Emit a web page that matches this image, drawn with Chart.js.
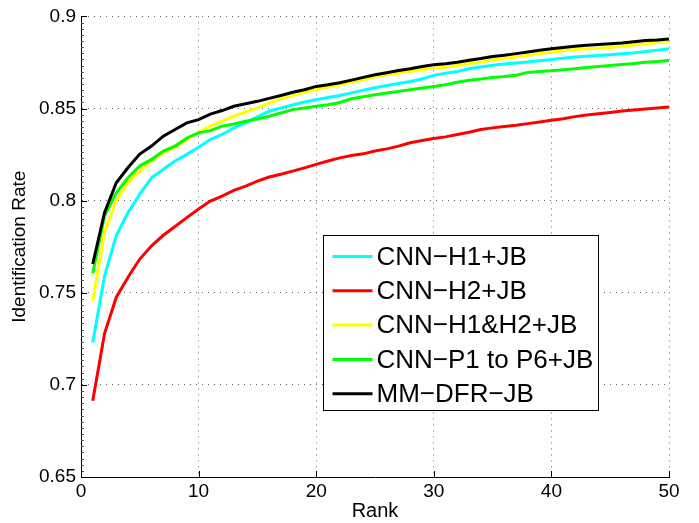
<!DOCTYPE html>
<html>
<head>
<meta charset="utf-8">
<script src="https://cdn.jsdelivr.net/npm/chart.js@4.4.0/dist/chart.umd.min.js"></script>
<style>
  html, body { margin: 0; padding: 0; background: #ffffff; }
  #wrap { width: 699px; height: 523px; }
</style>
</head>
<body>
<div id="wrap"><canvas id="c" width="699" height="523"></canvas></div>
<script>
const ranks = [1,2,3,4,5,6,7,8,9,10,11,12,13,14,15,16,17,18,19,20,21,22,23,24,25,26,27,28,29,30,31,32,33,34,35,36,37,38,39,40,41,42,43,44,45,46,47,48,49,50];

const seriesNames = ['CNN\u2212H1+JB', 'CNN\u2212H2+JB', 'CNN\u2212H1&H2+JB', 'CNN\u2212P1 to P6+JB', 'MM\u2212DFR\u2212JB'];

const cnnH1 = [0.723,0.759,0.781,0.7935,0.8035,0.8124,0.817,0.8215,0.8251,0.829,0.8332,0.8359,0.8395,0.8422,0.8455,0.8485,0.8503,0.852,0.8535,0.8548,0.856,0.8571,0.8585,0.86,0.8613,0.8625,0.8636,0.8647,0.866,0.868,0.8692,0.8701,0.8716,0.8725,0.8735,0.8741,0.8747,0.8753,0.8759,0.8766,0.8773,0.8779,0.8784,0.8788,0.8792,0.8797,0.8802,0.8809,0.8816,0.8824];

const cnnH2 = [0.6914,0.7278,0.7476,0.7584,0.7683,0.7755,0.7812,0.786,0.7908,0.7955,0.7998,0.8025,0.8056,0.8079,0.8106,0.8128,0.8143,0.816,0.8178,0.8197,0.8215,0.8232,0.8245,0.8254,0.8269,0.8281,0.8296,0.8314,0.8326,0.8337,0.8346,0.8359,0.8371,0.8386,0.8395,0.8402,0.8409,0.8418,0.8427,0.8436,0.8445,0.8456,0.8465,0.8472,0.8479,0.8486,0.8492,0.8497,0.8503,0.8508];

const cnnH1H2 = [0.7455,0.7827,0.80,0.8097,0.816,0.8215,0.826,0.829,0.8332,0.8371,0.8404,0.8431,0.8458,0.8481,0.8503,0.853,0.8551,0.8571,0.8588,0.8602,0.8615,0.8629,0.8642,0.8656,0.8672,0.8683,0.8692,0.8701,0.871,0.8719,0.8724,0.8733,0.8744,0.8751,0.8764,0.8771,0.878,0.8789,0.8798,0.8805,0.8813,0.882,0.8824,0.8827,0.8831,0.8838,0.8845,0.8852,0.8858,0.8863];

const cnnP1P6 = [0.7605,0.7917,0.8043,0.8124,0.8188,0.8224,0.8269,0.8296,0.834,0.8368,0.838,0.8404,0.8416,0.8431,0.8443,0.8458,0.8476,0.8494,0.8503,0.8512,0.8521,0.8533,0.8553,0.8564,0.8575,0.8584,0.8593,0.8602,0.8611,0.862,0.8629,0.8643,0.8654,0.866,0.8669,0.8674,0.8681,0.8696,0.8701,0.8705,0.871,0.8716,0.8723,0.8728,0.8734,0.8739,0.8744,0.8751,0.8755,0.876];

const mmDfr = [0.7656,0.7935,0.8097,0.818,0.8253,0.8296,0.835,0.8386,0.8422,0.844,0.847,0.8489,0.8512,0.8526,0.8539,0.8555,0.8571,0.8588,0.8602,0.862,0.8629,0.864,0.8654,0.8669,0.8683,0.8694,0.8706,0.8716,0.8728,0.8737,0.8743,0.8751,0.8762,0.8771,0.8782,0.8789,0.8798,0.8807,0.8816,0.8824,0.8831,0.8838,0.8843,0.8847,0.8851,0.8856,0.8863,0.8869,0.8872,0.8878];

const xTicks = [0, 10, 20, 30, 40, 50];
const yTicks = [0.65, 0.7, 0.75, 0.8, 0.85, 0.9];
const yTickLabels = ['0.65', '0.7', '0.75', '0.8', '0.85', '0.9'];
const xTickLabels = ['0', '10', '20', '30', '40', '50'];

const seriesValues = [cnnH1, cnnH2, cnnH1H2, cnnP1P6, mmDfr];
const seriesColors = ['#00ffff', '#ff0000', '#ffff00', '#00ff00', '#000000'];

const FONT = '"Liberation Sans", Arial, Helvetica, sans-serif';

const datasets = seriesValues.map((vals, i) => ({
  label: seriesNames[i],
  data: vals.map((v, j) => ({ x: ranks[j], y: v })),
  borderColor: seriesColors[i],
  backgroundColor: seriesColors[i],
  borderWidth: 3,
  pointRadius: 0,
  tension: 0,
  fill: false,
  order: seriesValues.length - 1 - i
}));

const axisDecor = {
  id: 'axisDecor',
  afterDatasetsDraw(chart) {
    const { ctx, chartArea: a, scales: { x, y } } = chart;
    ctx.save();
    // minor ticks (inward)
    ctx.strokeStyle = '#555';
    ctx.lineWidth = 1;
    ctx.beginPath();
    const yStep = (yTicks[1] - yTicks[0]) / 15;
    for (let v = yTicks[0]; v <= yTicks[yTicks.length - 1] + 1e-9; v += yStep) {
      const py = Math.round(y.getPixelForValue(v)) + 0.5;
      ctx.moveTo(a.left, py); ctx.lineTo(a.left + 3, py);
    }
    ctx.stroke();
    // major ticks (inward)
    ctx.strokeStyle = '#000';
    ctx.beginPath();
    xTicks.forEach(v => {
      const px = Math.round(x.getPixelForValue(v)) + 0.5;
      ctx.moveTo(px, a.bottom); ctx.lineTo(px, a.bottom - 6);
    });
    yTicks.forEach(v => {
      const py = Math.round(y.getPixelForValue(v)) + 0.5;
      ctx.moveTo(a.left, py); ctx.lineTo(a.left + 6, py);
    });
    ctx.stroke();

    // legend box inside the axes
    const bx = Math.round(a.left + (a.right - a.left) * 0.412) + 0.5;
    const by = Math.round(a.top + (a.bottom - a.top) * 0.475) + 0.5;
    const bw = 275, bh = 175;
    ctx.fillStyle = '#ffffff';
    ctx.fillRect(bx, by, bw, bh);
    ctx.strokeStyle = '#000';
    ctx.lineWidth = 1;
    ctx.strokeRect(bx, by, bw, bh);
    ctx.font = '26px ' + FONT;
    ctx.textBaseline = 'middle';
    ctx.textAlign = 'left';
    chart.data.datasets.forEach((ds, i) => {
      const cy = by + 21 + i * 34.3;
      ctx.strokeStyle = ds.borderColor;
      ctx.lineWidth = 3;
      ctx.beginPath();
      ctx.moveTo(bx + 9, cy); ctx.lineTo(bx + 49, cy);
      ctx.stroke();
      ctx.fillStyle = '#000';
      ctx.fillText(ds.label, bx + 53, cy + 1);
    });
    ctx.restore();
  }
};

new Chart(document.getElementById('c'), {
  type: 'line',
  data: { datasets },
  options: {
    responsive: false,
    animation: false,
    devicePixelRatio: 1,
    layout: { padding: { left: 0, right: 30, top: 15, bottom: 0 } },
    plugins: {
      legend: { display: false },
      tooltip: { enabled: false },
      title: { display: false }
    },
    scales: {
      x: {
        type: 'linear',
        min: 0, max: 50,
        afterBuildTicks: s => { s.ticks = xTicks.map(v => ({ value: v })); },
        afterFit: s => { s.height = 46; },
        ticks: {
          color: '#000',
          font: { family: FONT, size: 19 },
          padding: 3,
          maxRotation: 0,
          callback: (v, i) => xTickLabels[i]
        },
        grid: {
          color: 'rgba(0,0,0,0.6)',
          lineWidth: 1,
          drawTicks: false
        },
        border: { display: true, color: '#000', width: 1, dash: [1, 5] },
        title: {
          display: true, text: 'Rank', color: '#000',
          font: { family: FONT, size: 20 },
          padding: { top: 0, bottom: 0 }
        }
      },
      y: {
        type: 'linear',
        min: 0.65, max: 0.9,
        afterBuildTicks: s => { s.ticks = yTicks.map(v => ({ value: v })); },
        afterFit: s => { s.width = 81; },
        ticks: {
          color: '#000',
          font: { family: FONT, size: 19 },
          padding: 5,
          callback: (v, i) => yTickLabels[i]
        },
        grid: {
          color: 'rgba(0,0,0,0.6)',
          lineWidth: 1,
          drawTicks: false
        },
        border: { display: true, color: '#000', width: 1, dash: [1, 5] },
        title: {
          display: true, text: 'Identification Rate', color: '#000',
          font: { family: FONT, size: 19 },
          padding: { top: 8, bottom: 0 }
        }
      }
    }
  },
  plugins: [axisDecor]
});
</script>
</body>
</html>
